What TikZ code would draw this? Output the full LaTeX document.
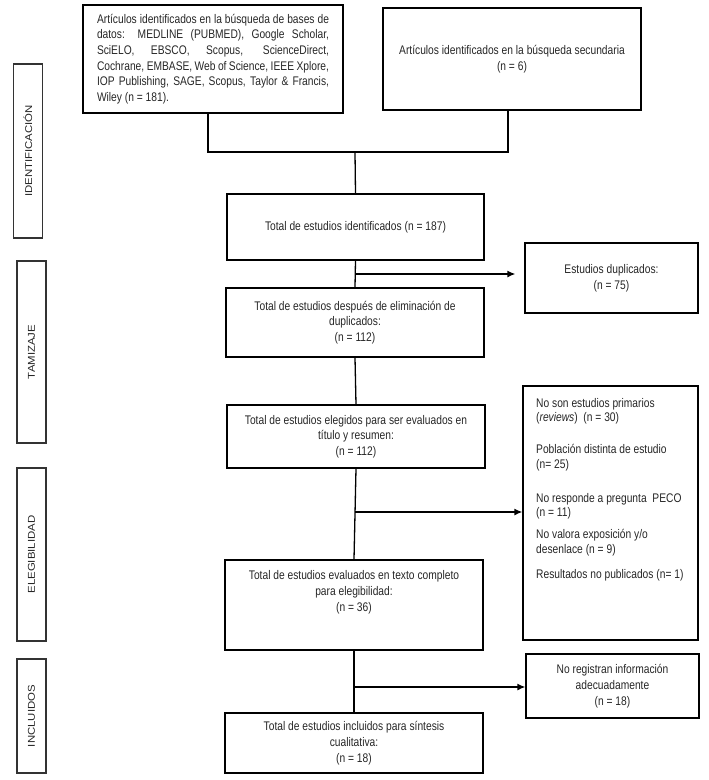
\documentclass[tikz,border=0pt]{standalone}
\usepackage{fontspec}
\setmainfont{Liberation Sans}[FakeStretch=0.82]
\newfontfamily\sidefont{Liberation Sans}[FakeStretch=1.15]
\usetikzlibrary{arrows.meta,calc}
\begin{document}
\begin{tikzpicture}[x=1pt,y=-1pt,
  every node/.style={text=black!85, font=\fontsize{12.5pt}{15.7pt}\selectfont},
  box/.style={draw=black, line width=1.3pt, inner sep=0pt, align=center},
  side/.style={draw=black!80, line width=1.2pt, inner sep=0pt, rotate=90,
    minimum height=29pt, font=\sidefont\fontsize{9.9pt}{11pt}\selectfont},
  link/.style={draw=black, line width=1.3pt},
  arr/.style={draw=black, line width=1.3pt, -{Latex[length=8pt,width=7pt]}}]
\useasboundingbox (0,0) rectangle (709,780);

% side labels
\node[side, minimum width=174pt] (sid) at (28,151) {IDENTIFICACIÓN};
\node[side, minimum width=182pt] (sta) at (31.5,352) {TAMIZAJE};
\node[side, minimum width=173pt] (sel) at (31.5,554.5) {ELEGIBILIDAD};
\node[side, minimum width=114pt] (sin) at (31.5,716) {INCLUIDOS};

% top boxes
\node[box, minimum width=260pt, minimum height=108pt, align=left] (b1) at (213,59) {%
\makebox[232pt][s]{Artículos identificados en la búsqueda de bases de}\\
\makebox[232pt][s]{datos: MEDLINE (PUBMED), Google Scholar,}\\
\makebox[232pt][s]{SciELO, EBSCO, Scopus, ScienceDirect,}\\
\makebox[232pt][s]{Cochrane, EMBASE, Web of Science, IEEE Xplore,}\\
\makebox[232pt][s]{IOP Publishing, SAGE, Scopus, Taylor \& Francis,}\\
Wiley (n = 181).};
\node[box, minimum width=258pt, minimum height=102pt] (b2) at (512,59)
  {Artículos identificados en la búsqueda secundaria\\(n = 6)};

% main column
\node[box, minimum width=257pt, minimum height=66pt] (b3) at (355.5,227)
  {Total de estudios identificados (n = 187)};
\node[box, minimum width=258pt, minimum height=69pt] (b4) at (355,322.5)
  {Total de estudios después de eliminación de\\duplicados:\\(n = 112)};
\node[box, minimum width=258pt, minimum height=63pt] (b5) at (356,436.5)
  {Total de estudios elegidos para ser evaluados en\\título y resumen:\\(n = 112)};
\node[box, minimum width=258pt, minimum height=90pt] (b6) at (354,605)
  {Total de estudios evaluados en texto completo\\para elegibilidad:\\(n = 36)\\[8pt]\strut};
\node[box, minimum width=258pt, minimum height=60pt] (b7) at (354,743)
  {Total de estudios incluidos para síntesis\\cualitativa:\\(n = 18)};

% right column
\node[box, minimum width=173pt, minimum height=70pt] (dup) at (611.5,278)
  {Estudios duplicados:\\(n = 75)};
\node[box, minimum width=175pt, minimum height=254pt] (exc) at (610.5,513) {};
\node[anchor=north west, align=left, inner sep=0pt,
  font=\fontsize{12.5pt}{14.5pt}\selectfont] (exct) at (536,398) {%
No son estudios primarios\\
(\textit{reviews})\ \ (n = 30)\\[17.5pt]
Población distinta de estudio\\
(n= 25)\\[19.5pt]
No responde a pregunta\ \ PECO\\
(n = 11)\\[7.5pt]
No valora exposición y/o\\
desenlace (n = 9)\\[10.5pt]
Resultados no publicados (n= 1)};
\node[box, minimum width=173pt, minimum height=64pt] (reg) at (612.5,686)
  {No registran información\\adecuadamente\\(n = 18)};

% connectors
\coordinate (jn) at (355,152);
\coordinate (jl) at (208,152);
\coordinate (jr) at (508,152);
\draw[link] (b1.south -| jl) -- (jl) -- (jr) -- (b2.south -| jr);
\draw[link] (jn) -- (b3.north);
\draw[link] (b3.south) -- (b4.north);
\coordinate (j1) at (355,274);
\draw[arr, shorten >=9pt] (j1) -- (j1 -| dup.west);
\draw[link] (b4.south) -- (b5.north);
\draw[link] (b5.south) -- (b6.north);
\coordinate (j2) at (355,512);
\draw[arr] (j2) -- (j2 -| exc.west);
\draw[link] (b6.south) -- (b7.north);
\coordinate (j3) at (354,687);
\draw[arr] (j3) -- (j3 -| reg.west);
\end{tikzpicture}
\end{document}
